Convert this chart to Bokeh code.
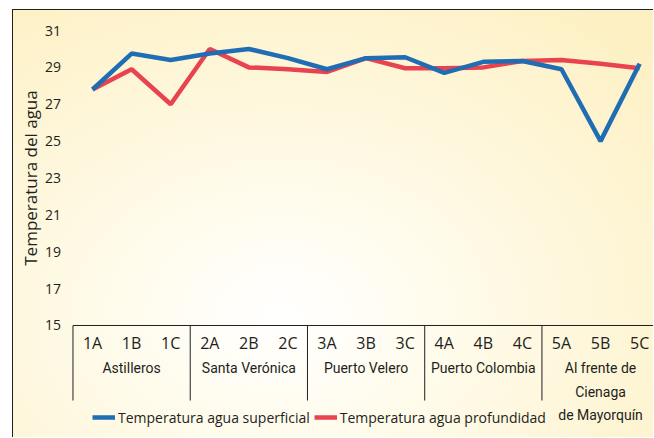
import math
from bokeh.plotting import figure
from bokeh.models import Range1d, Legend, LegendItem
from bokeh.core.properties import value
from bokeh.embed import file_html
from bokeh.resources import INLINE

stations = ["1A", "1B", "1C", "2A", "2B", "2C", "3A", "3B", "3C",
            "4A", "4B", "4C", "5A", "5B", "5C"]
groups = ["Astilleros", "Santa Verónica", "Puerto Velero", "Puerto Colombia",
          "Al frente de\nCienaga\nde Mayorquín"]
superficial = [27.8, 29.75, 29.4, 29.75, 30.0, 29.5, 28.9, 29.5, 29.55,
               28.7, 29.3, 29.35, 28.9, 25.0, 29.2]
profundidad = [27.8, 28.9, 27.0, 30.0, 29.0, 28.9, 28.75, 29.5, 28.95,
               28.95, 29.0, 29.35, 29.4, 29.2, 28.95]
y_ticks = [15, 17, 19, 21, 23, 25, 27, 29, 31]
series_names = ["Temperatura agua superficial", "Temperatura agua profundidad"]
y_title = "Temperatura del agua"

BLUE = "#1f6db3"
RED = "#e8434f"
INK = "#231f20"

xs = list(range(len(stations)))
per_group = len(stations) // len(groups)
group_x = [sum(xs[g * per_group:(g + 1) * per_group]) / per_group for g in range(len(groups))]
seps = [g * per_group - 0.5 for g in range(len(groups) + 1)]
y_base = min(y_ticks)
y_mid = (min(y_ticks) + max(y_ticks)) / 2

p = figure(width=641, height=428, output_backend="svg", toolbar_location=None,
           x_range=Range1d(-2.022, 14.38), y_range=Range1d(8.871, 32.085),
           x_axis_location=None, y_axis_location=None,
           min_border_left=0, min_border_right=0,
           min_border_top=0, min_border_bottom=0)
p.styles = {"margin-left": "12px", "margin-top": "9px",
            "border-left": "1px solid #231f20", "border-top": "1px solid #231f20",
            "background": "radial-gradient(ellipse 80% 90% at 42% 72%, #ffffff 0%, #fffbea 35%, #fdf0c3 100%)"}
p.background_fill_alpha = 0
p.border_fill_alpha = 0
p.outline_line_color = None
p.xgrid.visible = False
p.ygrid.visible = False

# value axis labels
p.text(x=[seps[0]] * len(y_ticks), y=y_ticks, text=[str(t) for t in y_ticks],
       text_align="right", text_baseline="middle", x_offset=-12,
       text_font=value("Open Sans"), text_font_size="14px", text_color=INK)
p.text(x=[seps[0]], y=[y_mid], text=[y_title], angle=math.pi / 2,
       text_align="center", text_baseline="middle", x_offset=-42,
       text_font=value("Open Sans"), text_font_size="17px", text_color=INK)

# category axis line and separators
p.segment(x0=[seps[0]], x1=[seps[-1]], y0=[y_base], y1=[y_base],
          line_color=INK, line_width=1)
p.segment(x0=seps, x1=seps, y0=[y_base] * len(seps), y1=[10.93] * len(seps),
          line_color=INK, line_width=1)

p.text(x=xs, y=[y_base] * len(xs), text=stations, text_align="center",
       text_baseline="middle", y_offset=18, text_font=value("Open Sans"),
       text_font_size="16px", text_color=INK)
p.text(x=group_x, y=[y_base] * len(group_x), text=groups, text_align="center",
       text_baseline="top", y_offset=35, text_font=value("Roboto"),
       text_font_size="14px", text_color=INK, text_line_height=1.45)

r_red = p.line(xs, profundidad, line_color=RED, line_width=4.5)
r_blue = p.line(xs, superficial, line_color=BLUE, line_width=4.5)

legend = Legend(items=[LegendItem(label=series_names[0], renderers=[r_blue]),
                       LegendItem(label=series_names[1], renderers=[r_red])],
                orientation="horizontal", location=(79, 11), glyph_width=23,
                label_text_font="Open Sans", label_text_font_size="14px",
                label_text_color=INK, label_standoff=3, spacing=4, padding=0,
                margin=0, background_fill_alpha=0, border_line_color=None)
p.add_layout(legend)

open("out.html", "w").write(file_html(p, INLINE))
